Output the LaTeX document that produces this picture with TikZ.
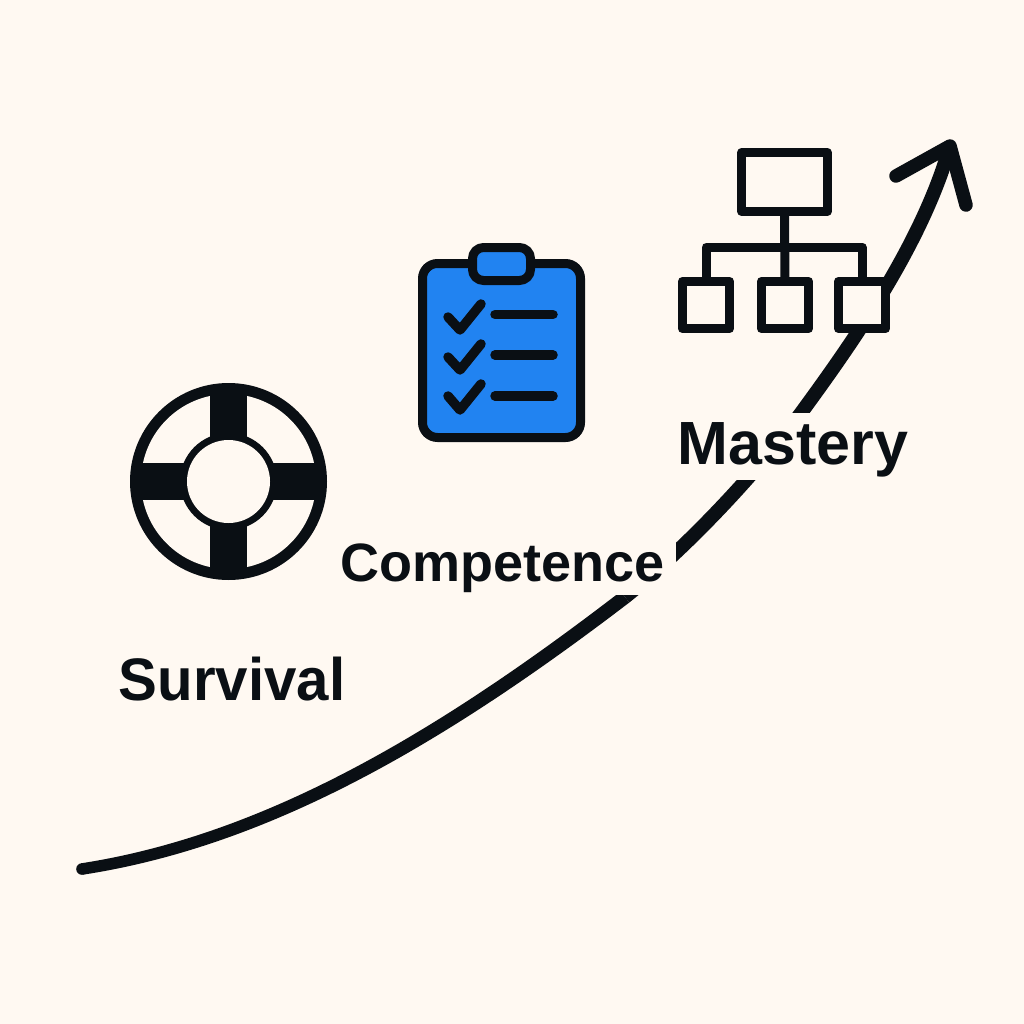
\documentclass[tikz,border=0pt]{standalone}
\usepackage{fontspec}
\setmainfont{Liberation Sans}
\definecolor{paper}{HTML}{FFF9F2}
\definecolor{ink}{HTML}{0A0F14}
\definecolor{clipblue}{HTML}{2183F1}
\tikzset{
  curveline/.style={draw=ink,line width=14pt,line join=round},
  barbline/.style={draw=ink,line width=13.5pt,line cap=round,line join=round},
  iconline/.style={draw=ink,line width=9pt,line join=round},
  tickline/.style={draw=ink,line width=9.5pt,line cap=round,line join=round},
  orgbox/.style={draw=ink,fill=paper,line width=8.7pt,line join=round,inner sep=0pt,outer sep=0pt},
  stagelabel/.style={text=ink,anchor=base,inner sep=0pt},
}
\begin{document}
\begin{tikzpicture}[x=1pt,y=-1pt]
\useasboundingbox (0,0) rectangle (1024,1024);
\fill[paper] (0,0) rectangle (1024,1024);
% rising curve: slightly tapered lower part, then full width
\coordinate (start) at (82,869);
\coordinate (tip) at (950,146);
\coordinate (barbL) at (896,176);
\coordinate (barbR) at (966,205);
\fill[ink] (start) circle (5.8);
\fill[ink] (81.1,863.3) .. controls (267.5,834.4) and (441.6,729.3) .. (620.7,591.5)
  -- (629.3,602.5) .. controls (448.4,740.7) and (272.5,845.6) .. (82.9,874.7) -- cycle;
\draw[curveline] (625,597) .. controls (685,549) and (756,474) .. (801,413)
  .. controls (850,346) and (922,245) .. (tip);
\draw[barbline] (barbL) -- (tip) -- (barbR);
% cut-outs behind labels
\fill[paper] (335,530) rectangle (676,595);
\fill[paper] (672,413) rectangle (915,480);
% lifebuoy
\fill[ink] (228.5,481.5) circle (98.5);
\fill[paper] (228.5,481.5) circle (87.5);
\fill[ink] (210,390) rectangle (247,573);
\fill[ink] (136,463) rectangle (321,500);
\fill[ink] (228.5,481.5) circle (48.5);
\fill[paper] (228.5,481.5) circle (41.5);
% clipboard
\draw[iconline,fill=clipblue,rounded corners=15pt] (422.5,263.5) rectangle (580.5,437.5);
\draw[iconline,fill=clipblue,rounded corners=11pt] (472.5,247.5) rectangle (530.5,280.5);
\draw[tickline] (448,317) -- (460,330) -- (481,304);
\draw[tickline] (448,357) -- (460,370) -- (481,344);
\draw[tickline] (448,396) -- (460,410) -- (481,384);
\draw[tickline] (495,314.5) -- (553,314.5);
\draw[tickline] (495,355) -- (553,355);
\draw[tickline] (495,396) -- (553,396);
% org chart
\node[orgbox,minimum width=86pt,minimum height=59pt] (top) at (784.5,182) {};
\node[orgbox,minimum width=47.5pt,minimum height=47.5pt] (left) at (706,305) {};
\node[orgbox,minimum width=47.5pt,minimum height=47.5pt] (mid) at (785,305) {};
\node[orgbox,minimum width=47.5pt,minimum height=47.5pt] (right) at (862,305) {};
\coordinate (bus) at (785,247);
\draw[iconline] (top.south) -- (mid.north);
\draw[iconline] (left.north) |- (bus) -| (right.north);
% labels
\node[stagelabel,font=\bfseries\fontsize{60}{60}\selectfont] (survival) at (232,700) {\scalebox{0.97}[1]{Survival}};
\node[stagelabel,font=\bfseries\fontsize{54}{54}\selectfont] (competence) at (503,581) {Competence};
\node[stagelabel,font=\bfseries\fontsize{61}{61}\selectfont] (mastery) at (793,464) {Mastery};
\end{tikzpicture}
\end{document}
